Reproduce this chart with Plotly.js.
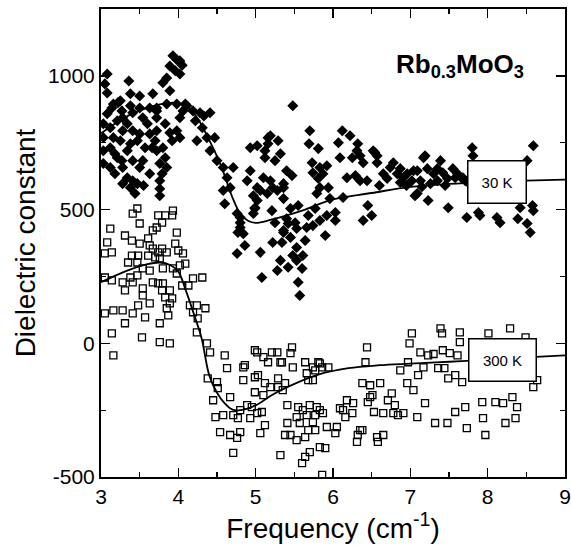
<!DOCTYPE html>
<html>
<head>
<meta charset="utf-8">
<script src="https://cdn.plot.ly/plotly-3.0.1.min.js"></script>
<style>html,body{margin:0;padding:0;background:#fff;}#chart{width:572px;height:545px;}</style>
</head>
<body>
<div id="chart"></div>
<script>
// ---- 30 K data (filled diamonds) ----
const k30_x = [3.93,4.02,3.89,3.96,4.02,3.85,3.80,3.89,4.05,3.98,
  3.36,3.08,3.05,3.08,3.38,3.50,3.67,3.25,3.16,3.50,3.38,3.72,3.98,4.09,4.28,4.41,4.19,
  3.22,3.14,3.08,3.27,3.41,3.54,3.72,3.85,4.11,4.33,4.22,4.31,4.37,4.24,4.47,4.41,4.50,4.58,4.71,4.63,4.67,4.60,4.76,4.80,4.77,4.99,4.97,
  5.10,5.19,5.02,5.15,5.28,5.36,5.21,5.25,5.36,4.93,5.02,5.16,5.29,5.12,
  3.03,3.03,3.03,3.03,3.12,3.16,3.12,3.18,3.25,3.28,3.34,3.41,3.47,3.50,3.60,3.63,3.70,3.72,3.80,3.83,3.76,3.85,3.79,3.76,3.76,3.76,
  3.63,3.54,3.50,3.41,3.34,3.27,3.28,3.34,3.41,3.38,3.28,3.47,3.18,3.12,3.21,3.66,3.57,3.38,3.72,3.72,3.83,3.89,3.63,3.28,3.21,3.92,4.02,3.98,4.02,4.06,3.44,3.55,
  5.48,4.58,4.80,4.80,4.84,4.86,4.76,5.06,5.08,5.19,5.16,5.32,5.12,5.25,4.93,4.89,5.22,5.06,4.97,5.02,5.40,5.47,5.36,5.36,4.99,5.45,5.55,5.40,5.42,5.51,5.53,5.36,
  5.22,5.34,5.45,5.53,5.48,5.61,5.64,5.66,5.68,5.32,5.28,5.42,5.53,5.60,5.55,5.57,
  5.70,5.69,5.81,5.73,5.83,5.92,5.74,5.81,5.87,5.83,5.94,5.79,5.96,5.77,5.92,6.03,5.83,5.74,5.90,6.03,
  6.12,6.22,6.07,6.32,6.31,6.09,6.25,6.39,6.52,6.57,6.57,6.18,6.29,6.44,6.13,6.45,6.50,6.39,6.65,6.74,6.78,6.83,6.70,
  7.17,7.39,7.35,7.22,7.09,7.55,7.58,7.48,7.67,7.71,7.35,7.26,7.13,7.02,6.96,6.87,6.91,7.06,7.23,7.49,7.80,7.81,7.73,7.88,7.90,8.12,8.16,8.39,8.51,8.55,8.59,8.59,8.51,8.42,
  6.35,6.35,6.54,7.19,7.04,7.30,7.42,7.61,7.68,6.87,7.09,8.58,6.60,6.95,7.15,7.45,7.75];
const k30_y = [1075,1056,1037,1019,1007,992,974,944,1040,1060,
  981,1007,970,936,933,925,933,907,895,880,888,880,895,895,862,862,869,
  900,880,858,869,862,843,869,895,888,850,832,806,769,757,769,720,683,657,657,619,582,522,485,451,414,507,485,
  619,608,582,560,571,582,496,451,422,731,739,769,757,720,
  821,769,720,672,806,769,731,709,757,795,821,795,757,783,821,783,757,720,731,694,672,657,634,608,578,552,
  634,683,657,683,720,683,657,619,608,582,597,597,634,657,694,731,731,746,795,843,821,787,880,843,832,757,769,795,843,869,560,590,
  888,571,470,433,410,366,336,340,246,776,746,709,694,683,645,608,582,571,552,534,645,627,597,541,504,504,515,466,448,451,429,414,
  377,377,396,358,328,328,384,433,478,310,272,284,310,280,228,179,
  795,746,728,675,657,664,638,616,634,582,582,560,541,504,478,489,459,440,403,459,
  795,776,750,746,720,694,694,675,720,701,675,619,627,608,545,515,478,459,634,657,675,634,616,
  694,683,653,653,645,653,619,616,616,608,608,597,608,608,634,653,619,552,534,507,731,701,470,489,478,470,451,466,448,414,496,739,683,507,
  608,701,713,701,645,634,638,634,619,601,560,515,590,590,585,590,600];

// ---- 300 K data (open squares) ----
const k300_x = [3.47,3.41,3.50,3.74,3.83,3.92,3.93,3.79,3.72,3.67,3.98,3.12,3.08,3.14,3.05,3.31,3.40,3.50,3.61,3.63,3.67,3.74,3.79,3.85,3.96,4.00,4.06,
  3.40,3.48,3.35,3.47,3.61,3.70,3.76,3.63,3.54,3.80,3.93,4.02,4.09,3.98,3.47,3.38,3.28,3.41,3.31,3.05,3.14,3.54,3.54,3.67,3.74,3.80,3.79,3.89,3.83,3.92,3.89,3.85,3.87,3.76,
  3.63,3.48,3.41,3.28,3.16,3.05,3.57,3.31,4.05,4.13,4.19,4.31,4.15,4.24,4.35,4.19,4.25,
  3.14,3.16,3.53,3.76,3.89,4.24,4.37,4.41,4.60,4.63,4.38,4.50,4.86,5.02,5.10,5.21,5.34,4.84,4.99,
  4.51,4.45,4.67,4.48,4.58,4.71,4.80,4.77,4.89,4.95,4.93,5.02,5.08,4.54,4.67,4.76,4.80,4.71,5.06,5.12,4.99,5.28,5.16,5.03,5.12,5.19,5.29,5.29,5.10,4.99,5.35,5.38,
  5.47,5.48,5.64,5.81,5.86,5.94,5.66,5.77,5.68,5.74,5.41,5.55,5.61,5.70,5.79,5.53,5.66,5.77,5.83,5.57,5.74,5.87,5.41,5.38,5.45,5.53,5.64,5.68,5.77,5.83,5.90,5.70,5.64,5.60,
  5.92,6.05,6.03,6.09,6.18,6.26,6.16,6.25,6.35,6.32,6.31,6.13,6.38,6.48,6.61,6.51,6.45,6.53,6.76,6.71,6.65,6.84,6.57,6.58,6.65,5.32,5.86,6.44,6.42,4.84,5.45,
  7.02,6.99,7.13,7.23,7.30,7.39,7.41,7.64,7.64,7.42,7.51,7.61,6.97,7.17,7.10,6.87,6.96,7.04,7.36,7.44,7.49,7.58,7.67,7.19,7.09,7.32,7.48,7.58,7.71,7.73,
  7.93,8.10,8.20,7.94,7.97,8.23,8.36,8.38,8.32,8.01,8.29,8.49,8.59,8.64,5.32,5.74,5.83,6.48,6.38,6.80,6.78,6.91];
const k300_y = [504,485,448,478,478,478,496,451,433,422,414,429,377,340,336,403,384,373,392,366,354,340,354,340,373,347,336,
  328,328,302,302,328,321,317,272,280,280,280,291,298,261,254,246,228,228,198,246,235,205,179,228,224,224,198,198,172,168,149,131,104,75,
  149,142,112,123,123,112,97,75,216,216,243,246,142,142,131,116,93,
  37,-45,22,4,0,41,0,-34,-45,-93,-131,-145,-82,-34,-52,-34,-71,-138,-127,
  -168,-213,-201,-276,-269,-269,-250,-280,-231,-239,-280,-261,-257,-332,-343,-354,-332,-410,-336,-306,-26,-34,-71,-119,-149,-164,-164,-131,-194,-183,-175,-149,
  -15,-90,-71,-71,-90,-90,-112,-101,-138,-138,-231,-239,-250,-231,-239,-276,-269,-269,-250,-298,-295,-261,-298,-343,-343,-362,-351,-325,-325,-388,-392,-407,-425,-448,
  -313,-313,-336,-243,-213,-224,-276,-261,-325,-343,-369,-250,-149,-157,-149,-194,-220,-257,-187,-213,-261,-269,-351,-369,-343,-418,-492,-15,-71,-90,-37,
  37,0,-34,-45,-40,56,37,41,4,-26,-37,-45,-71,-90,-119,-101,-149,-175,-93,-93,-131,-119,-145,-224,-276,-298,-298,-257,-239,-317,
  -220,-220,-224,-280,-343,-298,-280,-239,-201,37,56,22,-164,-138,-71,-90,-75,-201,-325,-231,-261,-261];

// ---- fitted curves ----
const fit30_x = [3.0,3.2,3.4,3.6,3.8,4.0,4.2,4.4,4.55,4.7,4.8,4.9,5.0,5.2,5.6,6.0,6.5,7.0,7.5,8.0,8.5,9.0];
const fit30_y = [785,825,858,880,895,898,860,760,665,545,485,458,450,462,496,538,562,585,596,603,608,612];
const fit300_x = [3.0,3.2,3.4,3.6,3.76,3.9,4.0,4.1,4.2,4.3,4.4,4.5,4.6,4.7,4.8,5.0,5.2,5.4,5.8,6.2,6.6,7.0,7.5,8.0,8.5,9.0];
const fit300_y = [228,255,278,296,302,292,268,195,110,20,-120,-185,-225,-248,-250,-232,-195,-165,-118,-93,-82,-76,-69,-62,-53,-45];

// ---- labels ----
const xTicks = [3,4,5,6,7,8,9];
const yTicks = [-500,0,500,1000];
const label30 = '30 K', label300 = '300 K';
const label30_pos = [8.12, 603], label300_pos = [8.19, -63];
const compound = '<b>Rb<sub>0.3</sub>MoO<sub>3</sub></b>';

const FONT = 'Liberation Sans, Arial, Helvetica, sans-serif';

const traces = [
  {x: k30_x, y: k30_y, type:'scatter', mode:'markers',
   marker:{symbol:'diamond', size:8.5, color:'#000', line:{width:0}}, hoverinfo:'skip'},
  {x: k300_x, y: k300_y, type:'scatter', mode:'markers',
   marker:{symbol:'square-open', size:7, color:'#000', line:{width:1.3}}, hoverinfo:'skip'},
  {x: fit30_x, y: fit30_y, type:'scatter', mode:'lines',
   line:{color:'#000', width:1.8, shape:'spline', smoothing:1}, hoverinfo:'skip'},
  {x: fit300_x, y: fit300_y, type:'scatter', mode:'lines',
   line:{color:'#000', width:1.8, shape:'spline', smoothing:1}, hoverinfo:'skip'}
];

const axisCommon = {
  showgrid:false, zeroline:false, showline:true, linecolor:'#000', linewidth:2, mirror:'ticks',
  ticks:'inside', ticklen:9, tickwidth:1.5, tickcolor:'#000',
  tickfont:{family:FONT, size:21, color:'#000'}
};

const layout = {
  width:572, height:545,
  margin:{l:101, r:7, t:9, b:68},
  paper_bgcolor:'#fff', plot_bgcolor:'#fff',
  showlegend:false,
  font:{family:FONT, color:'#000'},
  xaxis: Object.assign({}, axisCommon, {
    range:[3,9], tickvals:xTicks, ticktext:xTicks.map(String),
    minor:{dtick:0.5, ticks:'inside', ticklen:5, tickwidth:1.2, tickcolor:'#000', showgrid:false},
    title:{text:'Frequency (cm<sup>-1</sup>)', font:{family:FONT, size:28, color:'#000'}, standoff:10}
  }),
  yaxis: Object.assign({}, axisCommon, {
    range:[-500,1250], tickvals:yTicks, ticktext:yTicks.map(String),
    minor:{dtick:250, ticks:'inside', ticklen:5, tickwidth:1.2, tickcolor:'#000', showgrid:false},
    title:{text:'Dielectric constant', font:{family:FONT, size:28, color:'#000'}, standoff:4}
  }),
  annotations:[
    {x:label30_pos[0], y:label30_pos[1], xref:'x', yref:'y', text:label30, showarrow:false,
     font:{family:FONT, size:15, color:'#000'}, bgcolor:'#fff', bordercolor:'#000', borderwidth:1.5,
     width:57, height:41, borderpad:0},
    {x:label300_pos[0], y:label300_pos[1], xref:'x', yref:'y', text:label300, showarrow:false,
     font:{family:FONT, size:15, color:'#000'}, bgcolor:'#fff', bordercolor:'#000', borderwidth:1.5,
     width:66, height:41, borderpad:0},
    {x:7.64, y:1040, xref:'x', yref:'y', text:compound, showarrow:false,
     font:{family:FONT, size:26, color:'#000'}}
  ]
};

Plotly.newPlot('chart', traces, layout, {staticPlot:true, displayModeBar:false});
</script>
</body>
</html>
